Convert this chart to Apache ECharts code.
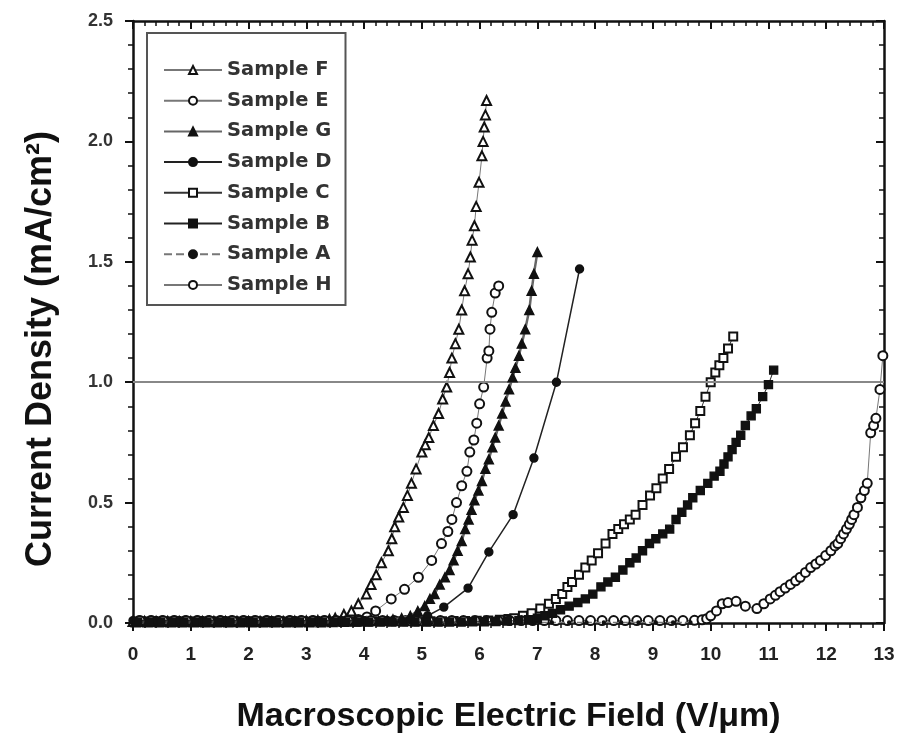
<!DOCTYPE html>
<html><head><meta charset="utf-8">
<script src="https://cdn.jsdelivr.net/npm/echarts@6/dist/echarts.min.js"></script>
<style>html,body{margin:0;padding:0;background:#fff}#c{width:906px;height:740px}</style>
</head><body><div id="c"></div>
<script>
const xTicks = [0,1,2,3,4,5,6,7,8,9,10,11,12,13];
const yTicks = [0.0,0.5,1.0,1.5,2.0,2.5];
const seriesNames = ['Sample F','Sample E','Sample G','Sample D','Sample C','Sample B','Sample A','Sample H'];
const refLine = 1.0;

const sampleF = [[0,0.006],[0.2,0.006],[0.4,0.006],[0.6,0.006],[0.8,0.006],[1.0,0.006],[1.2,0.006],[1.4,0.006],[1.6,0.006],[1.8,0.006],[2.0,0.006],[2.2,0.006],[2.4,0.006],[2.6,0.006],[2.8,0.007],[3.0,0.008],[3.2,0.01],[3.4,0.015],[3.5,0.02],[3.65,0.035],[3.78,0.05],[3.9,0.08],[4.04,0.12],[4.12,0.16],[4.21,0.2],[4.3,0.25],[4.42,0.3],[4.48,0.35],[4.53,0.40],[4.6,0.44],[4.68,0.48],[4.75,0.53],[4.82,0.58],[4.9,0.64],[5.0,0.71],[5.06,0.74],[5.12,0.77],[5.2,0.82],[5.29,0.87],[5.36,0.93],[5.43,0.98],[5.48,1.04],[5.52,1.10],[5.58,1.16],[5.64,1.22],[5.69,1.30],[5.74,1.38],[5.8,1.45],[5.84,1.52],[5.87,1.59],[5.91,1.65],[5.94,1.73],[5.99,1.83],[6.04,1.94],[6.06,2.0],[6.08,2.06],[6.1,2.11],[6.12,2.17]];
const sampleE = [[0.1,0.009],[0.3,0.009],[0.5,0.009],[0.7,0.009],[0.9,0.009],[1.1,0.009],[1.3,0.009],[1.5,0.009],[1.7,0.009],[1.9,0.009],[2.1,0.009],[2.3,0.009],[2.5,0.009],[2.7,0.009],[2.9,0.009],[3.1,0.009],[3.3,0.009],[3.5,0.009],[3.7,0.01],[3.9,0.015],[4.05,0.025],[4.2,0.05],[4.47,0.10],[4.7,0.14],[4.94,0.19],[5.17,0.26],[5.34,0.33],[5.45,0.38],[5.52,0.43],[5.6,0.50],[5.69,0.57],[5.78,0.63],[5.83,0.71],[5.9,0.76],[5.95,0.83],[6.0,0.91],[6.07,0.98],[6.13,1.10],[6.16,1.13],[6.18,1.22],[6.21,1.29],[6.27,1.37],[6.33,1.40]];
const sampleG = [[0.05,0.003],[0.25,0.003],[0.45,0.003],[0.65,0.003],[0.85,0.003],[1.05,0.003],[1.25,0.003],[1.45,0.003],[1.65,0.003],[1.85,0.003],[2.05,0.003],[2.25,0.003],[2.45,0.003],[2.65,0.003],[2.85,0.003],[3.05,0.003],[3.25,0.003],[3.45,0.004],[3.65,0.005],[3.85,0.006],[4.05,0.007],[4.25,0.009],[4.4,0.012],[4.5,0.015],[4.65,0.02],[4.8,0.03],[4.93,0.05],[5.05,0.07],[5.14,0.10],[5.22,0.12],[5.31,0.16],[5.4,0.19],[5.48,0.22],[5.55,0.26],[5.62,0.30],[5.69,0.34],[5.75,0.39],[5.81,0.43],[5.86,0.47],[5.91,0.51],[5.98,0.55],[6.04,0.59],[6.1,0.64],[6.16,0.68],[6.22,0.73],[6.27,0.77],[6.33,0.82],[6.39,0.87],[6.45,0.92],[6.51,0.97],[6.57,1.02],[6.62,1.06],[6.68,1.11],[6.73,1.16],[6.79,1.22],[6.86,1.30],[6.9,1.38],[6.94,1.45],[7.0,1.54]];
const sampleD = [[0,0.01],[0.4,0.01],[0.8,0.01],[1.2,0.01],[1.6,0.01],[2.0,0.01],[2.4,0.01],[2.8,0.01],[3.2,0.01],[3.6,0.01],[4.0,0.01],[4.4,0.01],[4.8,0.015],[5.1,0.03],[5.38,0.066],[5.80,0.145],[6.16,0.295],[6.58,0.45],[6.94,0.685],[7.33,1.0],[7.73,1.47]];
const sampleC = [[0.15,0.007],[0.35,0.007],[0.55,0.007],[0.75,0.007],[0.95,0.007],[1.15,0.007],[1.35,0.007],[1.55,0.007],[1.75,0.007],[1.95,0.007],[2.15,0.007],[2.35,0.007],[2.55,0.007],[2.75,0.007],[2.95,0.007],[3.15,0.007],[3.35,0.007],[3.55,0.007],[3.75,0.007],[3.95,0.007],[4.15,0.007],[4.35,0.007],[4.55,0.007],[4.75,0.007],[4.95,0.007],[5.15,0.007],[5.35,0.007],[5.55,0.008],[5.75,0.008],[5.95,0.009],[6.15,0.01],[6.35,0.013],[6.5,0.017],[6.6,0.02],[6.75,0.03],[6.9,0.04],[7.05,0.06],[7.2,0.08],[7.32,0.10],[7.43,0.12],[7.52,0.15],[7.6,0.17],[7.72,0.20],[7.83,0.23],[7.94,0.26],[8.05,0.29],[8.18,0.33],[8.3,0.37],[8.4,0.39],[8.5,0.41],[8.6,0.43],[8.7,0.45],[8.82,0.49],[8.95,0.53],[9.06,0.56],[9.17,0.60],[9.28,0.64],[9.4,0.69],[9.52,0.73],[9.64,0.78],[9.73,0.83],[9.82,0.88],[9.91,0.94],[10.0,1.0],[10.08,1.04],[10.15,1.07],[10.22,1.10],[10.3,1.14],[10.39,1.19]];
const sampleB = [[0.08,0.004],[0.28,0.004],[0.48,0.004],[0.68,0.004],[0.88,0.004],[1.08,0.004],[1.28,0.004],[1.48,0.004],[1.68,0.004],[1.88,0.004],[2.08,0.004],[2.28,0.004],[2.48,0.004],[2.68,0.004],[2.88,0.004],[3.08,0.004],[3.28,0.004],[3.48,0.004],[3.68,0.004],[3.88,0.004],[4.08,0.004],[4.28,0.004],[4.48,0.004],[4.68,0.004],[4.88,0.004],[5.08,0.004],[5.28,0.004],[5.48,0.004],[5.68,0.004],[5.88,0.005],[6.08,0.005],[6.28,0.006],[6.48,0.008],[6.68,0.01],[6.85,0.014],[7.0,0.02],[7.13,0.03],[7.26,0.04],[7.4,0.055],[7.55,0.07],[7.7,0.085],[7.83,0.10],[7.96,0.12],[8.1,0.15],[8.22,0.17],[8.35,0.19],[8.48,0.22],[8.6,0.25],[8.71,0.27],[8.82,0.30],[8.94,0.33],[9.05,0.35],[9.17,0.37],[9.29,0.39],[9.4,0.43],[9.5,0.46],[9.6,0.49],[9.69,0.52],[9.82,0.55],[9.95,0.58],[10.06,0.61],[10.16,0.63],[10.23,0.66],[10.3,0.69],[10.37,0.72],[10.44,0.75],[10.52,0.78],[10.6,0.82],[10.7,0.86],[10.79,0.89],[10.9,0.94],[11.0,0.99],[11.09,1.05]];
const sampleA = [[0.05,0.002],[0.35,0.002],[0.65,0.002],[0.95,0.002],[1.25,0.002],[1.55,0.002],[1.85,0.002],[2.15,0.002],[2.45,0.002],[2.75,0.002],[3.05,0.002],[3.35,0.002],[3.65,0.002],[3.95,0.002],[4.25,0.002],[4.55,0.002],[4.85,0.002],[5.15,0.002],[5.45,0.002],[5.75,0.002],[6.05,0.002],[6.35,0.002],[6.65,0.002],[6.95,0.002],[7.25,0.002],[7.55,0.002],[7.85,0.002],[8.15,0.002],[8.45,0.002],[8.75,0.002],[9.05,0.002],[9.35,0.002],[9.65,0.002]];
const sampleH = [[0.12,0.01],[0.32,0.01],[0.52,0.01],[0.72,0.01],[0.92,0.01],[1.12,0.01],[1.32,0.01],[1.52,0.01],[1.72,0.01],[1.92,0.01],[2.12,0.01],[2.32,0.01],[2.52,0.01],[2.72,0.01],[2.92,0.01],[3.12,0.01],[3.32,0.01],[3.52,0.01],[3.72,0.01],[3.92,0.01],[4.12,0.01],[4.32,0.01],[4.52,0.01],[4.72,0.01],[4.92,0.01],[5.12,0.01],[5.32,0.01],[5.52,0.01],[5.72,0.01],[5.92,0.01],[6.12,0.01],[6.32,0.01],[6.52,0.01],[6.72,0.01],[6.92,0.01],[7.12,0.01],[7.32,0.01],[7.52,0.01],[7.72,0.01],[7.92,0.01],[8.12,0.01],[8.32,0.01],[8.52,0.01],[8.72,0.01],[8.92,0.01],[9.12,0.01],[9.32,0.01],[9.52,0.01],[9.72,0.011],[9.85,0.013],[9.93,0.018],[10.0,0.03],[10.1,0.05],[10.2,0.08],[10.3,0.085],[10.44,0.09],[10.6,0.07],[10.8,0.06],[10.92,0.08],[11.03,0.10],[11.12,0.115],[11.2,0.13],[11.29,0.145],[11.38,0.16],[11.47,0.175],[11.55,0.19],[11.64,0.21],[11.73,0.23],[11.82,0.245],[11.9,0.26],[11.99,0.28],[12.08,0.30],[12.15,0.32],[12.2,0.33],[12.25,0.35],[12.3,0.37],[12.35,0.39],[12.4,0.41],[12.44,0.43],[12.48,0.45],[12.54,0.48],[12.6,0.52],[12.66,0.55],[12.71,0.58],[12.77,0.79],[12.82,0.82],[12.86,0.85],[12.93,0.97],[12.98,1.11]];

const dataList = [sampleF, sampleE, sampleG, sampleD, sampleC, sampleB, sampleA, sampleH];
const symbols = ['emptyTriangle','emptyCircle','triangle','circle','emptyRect','rect','circle','emptyCircle'];
const symSizes = [9,9,9,8,8,8,3,9];
const lineColors = ['#777','#777','#666','#222','#333','#222','#777','#777'];
const lineWidths = [1,1,2.5,1.5,1,1,1.5,1];
const lineTypes = ['solid','solid','solid','solid','solid','solid','dashed','solid'];
const zOrder = [3,3,5,5,3,5,4,3];

const series = seriesNames.map((n,i)=>({
  name:n, type:'line', data:dataList[i], symbol:symbols[i], symbolSize:symSizes[i],
  showAllSymbol:true, animation:false,
  itemStyle:{color:'#111', borderColor:'#111', borderWidth:1.4},
  lineStyle:{color:lineColors[i], width:lineWidths[i], type:lineTypes[i]},
  z: zOrder[i]
}));
series[0].markLine = {silent:true, symbol:['none','none'], label:{show:false},
  lineStyle:{color:'#888', width:2, type:'solid'}, data:[{yAxis:refLine}]};

const fontFam = '"Liberation Sans", Arial, sans-serif';
const chart = echarts.init(document.getElementById('c'));
chart.setOption({
  backgroundColor:'#fff',
  animation:false,
  grid:{left:133, right:22, top:21, bottom:117},
  legend:{
    data:seriesNames, orient:'vertical', left:147, top:33,
    itemWidth:58, itemHeight:10, itemGap:10.7,
    padding:[27,14,10,16],
    borderColor:'#555', borderWidth:2,
    textStyle:{fontFamily:'"DejaVu Sans", sans-serif', fontWeight:'bold', fontSize:19.5, color:'#333', lineHeight:18}
  },
  xAxis:[{
    type:'value', min:0, max:13, interval:1, position:'bottom',
    axisLine:{show:true, onZero:false, lineStyle:{color:'#111', width:2.5}},
    axisTick:{show:true, inside:false, length:8, lineStyle:{color:'#111', width:2}},
    minorTick:{show:true, splitNumber:5, length:5, lineStyle:{color:'#111', width:1.5}},
    splitLine:{show:false},
    axisLabel:{margin:22, fontFamily:fontFam, fontWeight:'bold', fontSize:19, color:'#222',
      formatter:v=>xTicks.includes(v)?String(v):''},
    name:'Macroscopic Electric Field (V/μm)', nameLocation:'middle', nameGap:77,
    nameTextStyle:{fontFamily:fontFam, fontWeight:'bold', fontSize:34, color:'#111'}
  },{
    type:'value', min:0, max:13, interval:1, position:'top',
    axisLine:{show:true, onZero:false, lineStyle:{color:'#111', width:2.5}},
    axisTick:{show:true, inside:true, length:8, lineStyle:{color:'#111', width:2}},
    minorTick:{show:true, splitNumber:5, length:5, lineStyle:{color:'#111', width:1.5}},
    axisLabel:{show:false}, splitLine:{show:false}
  }],
  yAxis:[{
    type:'value', min:0, max:2.5, interval:0.5, position:'left',
    axisLine:{show:true, onZero:false, lineStyle:{color:'#111', width:2.5}},
    axisTick:{show:true, inside:false, length:8, lineStyle:{color:'#111', width:2}},
    minorTick:{show:true, splitNumber:5, length:5, lineStyle:{color:'#111', width:1.5}},
    splitLine:{show:false},
    axisLabel:{margin:20, fontFamily:fontFam, fontWeight:'bold', fontSize:18, color:'#333',
      formatter:v=>{const t=yTicks.find(y=>Math.abs(y-v)<1e-9);return t===undefined?'':t.toFixed(1);}},
    name:'Current Density (mA/cm²)', nameLocation:'middle', nameGap:74,
    nameTextStyle:{fontFamily:fontFam, fontWeight:'bold', fontSize:36, color:'#111', padding:[0,54,0,0]}
  },{
    type:'value', min:0, max:2.5, interval:0.5, position:'right',
    axisLine:{show:true, onZero:false, lineStyle:{color:'#111', width:2.5}},
    axisTick:{show:true, inside:true, length:8, lineStyle:{color:'#111', width:2}},
    minorTick:{show:true, splitNumber:5, length:5, lineStyle:{color:'#111', width:1.5}},
    axisLabel:{show:false}, splitLine:{show:false}
  }],
  series: series
});
</script></body></html>
